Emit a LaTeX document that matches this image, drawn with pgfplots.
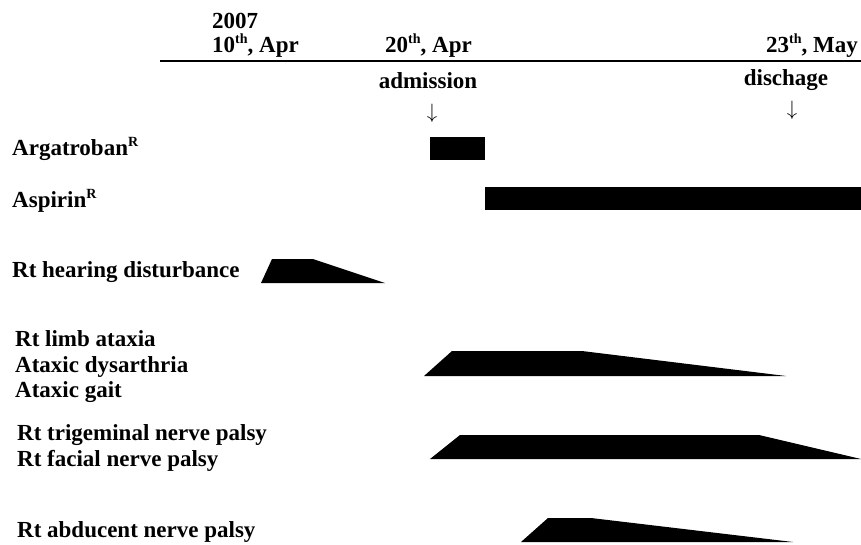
\documentclass[border=0pt]{standalone}
\usepackage{pgfplots}
\pgfplotsset{compat=1.18}
\usepackage{fontspec}
\setmainfont{Liberation Serif}
\tikzset{lab/.style={inner sep=0pt, font=\fontsize{23}{27}\selectfont\bfseries}}
\newcommand{\sups}[1]{\raisebox{0.38em}{\fontsize{14}{16}\selectfont #1}}
\begin{document}
\begin{tikzpicture}
\begin{axis}[
  hide axis, scale only axis, width=861pt, height=544pt,
  xmin=0, xmax=861, ymin=0, ymax=544, y dir=reverse, clip=false,
]
% timeline
\addplot[black, line width=2pt] coordinates {(160,61) (861,61)};
% drug bars
\addplot[fill=black, draw=none] coordinates {(430,137) (485,137) (485,160) (430,160)} --cycle;
\addplot[fill=black, draw=none] coordinates {(485,187) (861,187) (861,210) (485,210)} --cycle;
% symptom shapes
\addplot[fill=black, draw=none] coordinates {(261,283) (272,259) (313,259) (385,283)} --cycle;
\addplot[fill=black, draw=none] coordinates {(424,376) (452,351) (582,351) (786,376)} --cycle;
\addplot[fill=black, draw=none] coordinates {(430,459) (460,435) (759,435) (861,459)} --cycle;
\addplot[fill=black, draw=none] coordinates {(521,542) (548,518) (591,518) (793,542)} --cycle;
% top labels
\node[lab, anchor=base west] at (axis cs:212,28) {2007};
\node[lab, anchor=base west] at (axis cs:212,52) {10\sups{th}, Apr};
\node[lab, anchor=base west] at (axis cs:385,52) {20\sups{th}, Apr};
\node[lab, anchor=base east] at (axis cs:858,52) {23\sups{th}, May};
\node[lab, anchor=base] at (axis cs:428,88) {admission};
\node[lab, anchor=base] at (axis cs:786,85) {dischage};
\node[inner sep=0pt, anchor=north, font=\fontsize{22}{26}\selectfont] at (axis cs:432,104) {$\downarrow$};
\node[inner sep=0pt, anchor=north, font=\fontsize{22}{26}\selectfont] at (axis cs:792,101) {$\downarrow$};
% left labels
\node[lab, anchor=base west] at (axis cs:12,155) {Argatroban\sups{R}};
\node[lab, anchor=base west] at (axis cs:12,207) {Aspirin\sups{R}};
\node[lab, anchor=base west] at (axis cs:12,277) {Rt hearing disturbance};
\node[lab, anchor=base west] at (axis cs:15,346) {Rt limb ataxia};
\node[lab, anchor=base west] at (axis cs:15,372) {Ataxic dysarthria};
\node[lab, anchor=base west] at (axis cs:15,397) {Ataxic gait};
\node[lab, anchor=base west] at (axis cs:17,440) {Rt trigeminal nerve palsy};
\node[lab, anchor=base west] at (axis cs:17,466) {Rt facial nerve palsy};
\node[lab, anchor=base west] at (axis cs:17,537) {Rt abducent nerve palsy};
\end{axis}
\pgfresetboundingbox
\path (current axis.south west) rectangle (current axis.north east);
\end{tikzpicture}
\end{document}
